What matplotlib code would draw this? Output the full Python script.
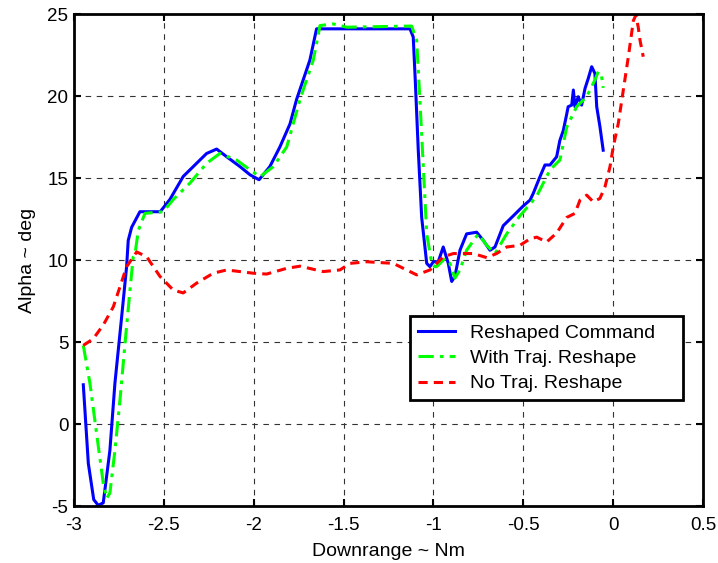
import matplotlib
matplotlib.use('Agg')
import matplotlib.pyplot as plt

plt.rcParams['font.family'] = ['Liberation Sans', 'DejaVu Sans']

# Reshaped Command (blue)
cmd_x = [-2.948, -2.92, -2.89, -2.865, -2.837, -2.80, -2.772, -2.735, -2.707, -2.698,
         -2.679, -2.633, -2.52, -2.466, -2.392, -2.262, -2.206, -2.15, -2.076, -2.02,
         -1.97, -1.91, -1.854, -1.798, -1.761, -1.687, -1.65, -1.13, -1.112, -1.10,
         -1.084, -1.065, -1.037, -1.019, -1.0, -0.973, -0.945, -0.917, -0.898, -0.88,
         -0.852, -0.815, -0.759, -0.722, -0.685, -0.657, -0.611, -0.555, -0.5, -0.462,
         -0.444, -0.407, -0.379, -0.351, -0.314, -0.296, -0.277, -0.258, -0.25, -0.23,
         -0.221, -0.212, -0.194, -0.175, -0.156, -0.138, -0.119, -0.101, -0.091, -0.073,
         -0.055]
cmd_y = [2.4, -2.4, -4.6, -4.95, -4.8, -1.6, 2.5, 6.5, 9.6, 11.2,
         12.0, 12.95, 12.95, 13.7, 15.1, 16.5, 16.77, 16.3, 15.7, 15.2,
         14.9, 15.7, 16.9, 18.3, 19.8, 22.2, 24.1, 24.1, 23.6, 20.8,
         16.7, 12.6, 9.8, 9.6, 9.9, 9.9, 10.8, 9.8, 8.7, 9.0,
         10.6, 11.6, 11.7, 11.2, 10.6, 10.8, 12.1, 12.7, 13.3, 13.66,
         14.07, 15.08, 15.8, 15.8, 16.3, 17.3, 17.9, 18.9, 19.35, 19.45,
         20.37, 19.35, 19.96, 19.45, 20.47, 21.08, 21.79, 21.38, 19.35, 18.13,
         16.7]

# With Traj. Reshape (green)
with_x = [-2.948, -2.911, -2.874, -2.837, -2.818, -2.80, -2.772, -2.744, -2.716, -2.688,
          -2.67, -2.66, -2.642, -2.605, -2.503, -2.447, -2.354, -2.262, -2.188, -2.095,
          -2.02, -1.965, -1.891, -1.816, -1.742, -1.668, -1.631, -1.557, -1.482, -1.121,
          -1.093, -1.075, -1.056, -1.037, -1.009, -0.991, -0.982, -0.935, -0.908, -0.88,
          -0.852, -0.815, -0.75, -0.703, -0.657, -0.592, -0.518, -0.425, -0.351, -0.296,
          -0.258, -0.203, -0.147, -0.101, -0.082, -0.064, -0.055]
with_y = [4.8, 2.48, -0.57, -3.6, -4.53, -4.2, -1.6, 1.46, 4.9, 8.2,
          10.2, 10.4, 11.8, 12.85, 12.95, 13.7, 14.7, 15.9, 16.5, 16.1,
          15.5, 15.08, 15.7, 16.9, 19.8, 22.2, 24.3, 24.4, 24.2, 24.27,
          23.4, 19.76, 15.7, 11.6, 9.8, 9.6, 9.6, 10.1, 9.8, 8.9,
          9.4, 10.6, 11.6, 10.9, 10.4, 11.6, 12.7, 13.9, 15.5, 16.1,
          18.1, 19.35, 19.96, 20.98, 21.5, 21.2, 20.5]

# No Traj. Reshape (red)
no_x = [-2.948, -2.893, -2.837, -2.781, -2.744, -2.707, -2.651, -2.595, -2.521, -2.447,
        -2.392, -2.317, -2.225, -2.15, -2.076, -2.002, -1.928, -1.816, -1.742, -1.613,
        -1.52, -1.464, -1.371, -1.223, -1.149, -1.093, -1.019, -0.945, -0.889, -0.778,
        -0.703, -0.648, -0.592, -0.518, -0.462, -0.425, -0.37, -0.314, -0.258, -0.212,
        -0.184, -0.147, -0.11, -0.073, -0.045, -0.017, 0.001, 0.029, 0.057, 0.085,
        0.113, 0.127, 0.14, 0.15, 0.168]
no_y = [4.8, 5.2, 6.04, 7.15, 8.37, 9.6, 10.5, 10.2, 9.0, 8.17,
        8.0, 8.6, 9.2, 9.4, 9.3, 9.2, 9.15, 9.5, 9.63, 9.3,
        9.4, 9.8, 9.9, 9.8, 9.4, 9.1, 9.4, 10.2, 10.4, 10.4,
        10.15, 10.4, 10.8, 10.9, 11.3, 11.4, 11.1, 11.65, 12.6, 12.85,
        13.66, 13.96, 13.55, 13.76, 14.47, 15.7, 16.9, 18.33, 20.37, 22.4,
        24.6, 24.94, 24.2, 23.4, 22.4]

fig = plt.figure(figsize=(7.18, 5.63), dpi=100)
ax = fig.add_axes([0.103, 0.101, 0.876, 0.874])

ax.plot(cmd_x, cmd_y, color='#0000ff', linewidth=2.2, label='Reshaped Command')
ax.plot(with_x, with_y, color='#00ff00', linewidth=2.2, linestyle=(0, (5, 2, 1.2, 2)),
        label='With Traj. Reshape')
ax.plot(no_x, no_y, color='#ff0000', linewidth=2.2, linestyle=(0, (3, 2)),
        label='No Traj. Reshape')

ax.set_xlim(-3, 0.5)
ax.set_ylim(-5, 25)
ax.set_xticks([-3, -2.5, -2, -1.5, -1, -0.5, 0, 0.5])
ax.set_xticklabels(['-3', '-2.5', '-2', '-1.5', '-1', '-0.5', '0', '0.5'])
ax.set_yticks([-5, 0, 5, 10, 15, 20, 25])
ax.set_yticklabels(['-5', '0', '5', '10', '15', '20', '25'])

ax.grid(True, color='#333333', linestyle=(0, (5, 5)), linewidth=0.8)
ax.tick_params(direction='in', top=True, right=True, length=5, width=1.5,
               labelsize=13.5)
ax.tick_params(axis='x', pad=8)
ax.tick_params(axis='y', pad=4)
for s in ax.spines.values():
    s.set_linewidth(2)

ax.set_xlabel('Downrange ~ Nm', fontsize=14, labelpad=6)
ax.set_ylabel('Alpha ~ deg', fontsize=14, labelpad=8)

leg = ax.legend(loc='upper left', bbox_to_anchor=(0.534, 0.0, 0.434, 0.386),
                mode='expand', fontsize=14, fancybox=False, framealpha=1,
                edgecolor='black', handlelength=1.9, borderpad=0.4,
                labelspacing=0.4, handletextpad=0.8, borderaxespad=0)
leg.get_frame().set_linewidth(2)

plt.savefig('out.png', dpi=100)
